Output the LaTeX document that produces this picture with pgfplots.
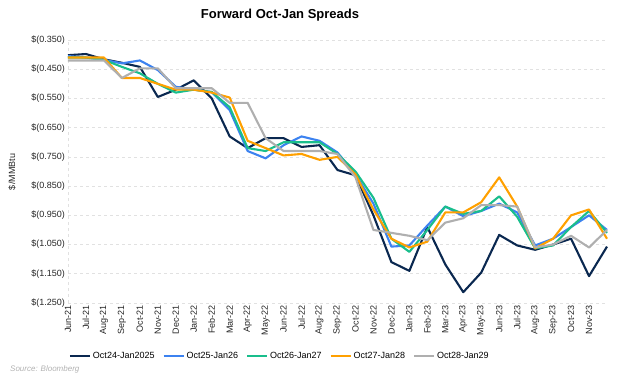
\documentclass[border=0pt]{standalone}
\usepackage{pgfplots}
\pgfplotsset{compat=1.18}
\usepackage{fontspec}
\setmainfont{Liberation Sans}
\definecolor{cnavy}{RGB}{10,40,80}
\definecolor{cblue}{RGB}{60,130,240}
\definecolor{cgreen}{RGB}{25,190,140}
\definecolor{corange}{RGB}{255,160,0}
\definecolor{cgray}{RGB}{175,175,175}
\definecolor{cgrid}{RGB}{225,225,225}
\begin{document}
\begin{tikzpicture}[x=1pt,y=1pt]
\useasboundingbox (0,0) rectangle (624,380);
\begin{axis}[
  at={(68pt,77pt)}, anchor=south west,
  width=539pt, height=263pt, scale only axis,
  xmin=0, xmax=30, ymin=-1.25, ymax=-0.35,
  axis line style={draw=none},
  major tick length=0pt,
  ymajorgrids, grid style={dashed, cgrid, line width=0.6pt},
  ytick={-1.25,-1.15,-1.05,-0.95,-0.85,-0.75,-0.65,-0.55,-0.45,-0.35},
  yticklabels={\$(1.250),\$(1.150),\$(1.050),\$(0.950),\$(0.850),\$(0.750),\$(0.650),\$(0.550),\$(0.450),\$(0.350)},
  xtick={0,...,29},
  xticklabels={Jun-21,Jul-21,Aug-21,Sep-21,Oct-21,Nov-21,Dec-21,Jan-22,Feb-22,Mar-22,Apr-22,May-22,Jun-22,Jul-22,Aug-22,Sep-22,Oct-22,Nov-22,Dec-22,Jan-23,Feb-23,Mar-23,Apr-23,May-23,Jun-23,Jul-23,Aug-23,Sep-23,Oct-23,Nov-23},
  x tick label style={rotate=90, anchor=east, font=\fontsize{9}{10}\selectfont, text=black!85, inner sep=2pt},
  y tick label style={font=\fontsize{9}{10}\selectfont, text=black!85, inner sep=3pt},
  every axis plot/.append style={line width=2.1pt, line join=round},
  legend columns=5,
  legend style={at={(0.393,-0.2015)}, anchor=center, draw=none, fill=none,
    font=\fontsize{9}{10}\selectfont, /tikz/every even column/.append style={column sep=6pt}},
  legend image code/.code={\draw[#1, line width=2pt] (0pt,0pt) -- (20pt,0pt);},
  clip=false,
]
\draw[dashed, cgrid, line width=0.6pt] (axis cs:0,-1.25) -- (axis cs:0,-0.35);
\addplot[cnavy] coordinates {(0,-0.402)(1,-0.398)(2,-0.416)(3,-0.428)(4,-0.442)(5,-0.545)(6,-0.52)(7,-0.488)(8,-0.55)(9,-0.68)(10,-0.72)(11,-0.686)(12,-0.686)(13,-0.716)(14,-0.71)(15,-0.795)(16,-0.813)(17,-0.95)(18,-1.11)(19,-1.14)(20,-0.99)(21,-1.118)(22,-1.213)(23,-1.146)(24,-1.017)(25,-1.053)(26,-1.068)(27,-1.05)(28,-1.03)(29,-1.158)(30,-1.057)};
\addlegendentry{Oct24-Jan2025}
\addplot[cblue] coordinates {(0,-0.405)(1,-0.41)(2,-0.418)(3,-0.43)(4,-0.42)(5,-0.453)(6,-0.51)(7,-0.52)(8,-0.528)(9,-0.59)(10,-0.73)(11,-0.755)(12,-0.71)(13,-0.68)(14,-0.695)(15,-0.735)(16,-0.81)(17,-0.91)(18,-1.057)(19,-1.053)(20,-0.985)(21,-0.92)(22,-0.953)(23,-0.935)(24,-0.91)(25,-0.94)(26,-1.053)(27,-1.03)(28,-0.99)(29,-0.95)(30,-1.0)};
\addlegendentry{Oct25-Jan26}
\addplot[cgreen] coordinates {(0,-0.41)(1,-0.41)(2,-0.418)(3,-0.442)(4,-0.464)(5,-0.50)(6,-0.53)(7,-0.52)(8,-0.528)(9,-0.58)(10,-0.72)(11,-0.73)(12,-0.70)(13,-0.70)(14,-0.70)(15,-0.74)(16,-0.80)(17,-0.89)(18,-1.03)(19,-1.075)(20,-1.0)(21,-0.92)(22,-0.945)(23,-0.935)(24,-0.885)(25,-0.955)(26,-1.063)(27,-1.053)(28,-0.99)(29,-0.935)(30,-1.01)};
\addlegendentry{Oct26-Jan27}
\addplot[corange] coordinates {(0,-0.41)(1,-0.41)(2,-0.41)(3,-0.48)(4,-0.48)(5,-0.50)(6,-0.52)(7,-0.52)(8,-0.53)(9,-0.547)(10,-0.695)(11,-0.72)(12,-0.745)(13,-0.74)(14,-0.76)(15,-0.75)(16,-0.81)(17,-0.93)(18,-1.03)(19,-1.06)(20,-1.04)(21,-0.94)(22,-0.94)(23,-0.905)(24,-0.82)(25,-0.92)(26,-1.063)(27,-1.03)(28,-0.95)(29,-0.93)(30,-1.03)};
\addlegendentry{Oct27-Jan28}
\addplot[cgray] coordinates {(0,-0.42)(1,-0.42)(2,-0.42)(3,-0.48)(4,-0.447)(5,-0.447)(6,-0.515)(7,-0.515)(8,-0.515)(9,-0.565)(10,-0.565)(11,-0.686)(12,-0.73)(13,-0.73)(14,-0.73)(15,-0.74)(16,-0.82)(17,-1.0)(18,-1.01)(19,-1.02)(20,-1.035)(21,-0.975)(22,-0.96)(23,-0.915)(24,-0.915)(25,-0.92)(26,-1.06)(27,-1.05)(28,-1.02)(29,-1.06)(30,-1.0)};
\addlegendentry{Oct28-Jan29}
\end{axis}
\node[font=\bfseries\fontsize{13}{15}\selectfont] at (280,365) {Forward Oct-Jan Spreads};
\node[rotate=90, font=\fontsize{9}{10}\selectfont, text=black!85] at (12,208) {\$/MMBtu};
\node[anchor=west, font=\itshape\fontsize{8}{9}\selectfont, text=black!30, inner sep=0pt] at (10,11) {Source: Bloomberg};
\end{tikzpicture}
\end{document}
